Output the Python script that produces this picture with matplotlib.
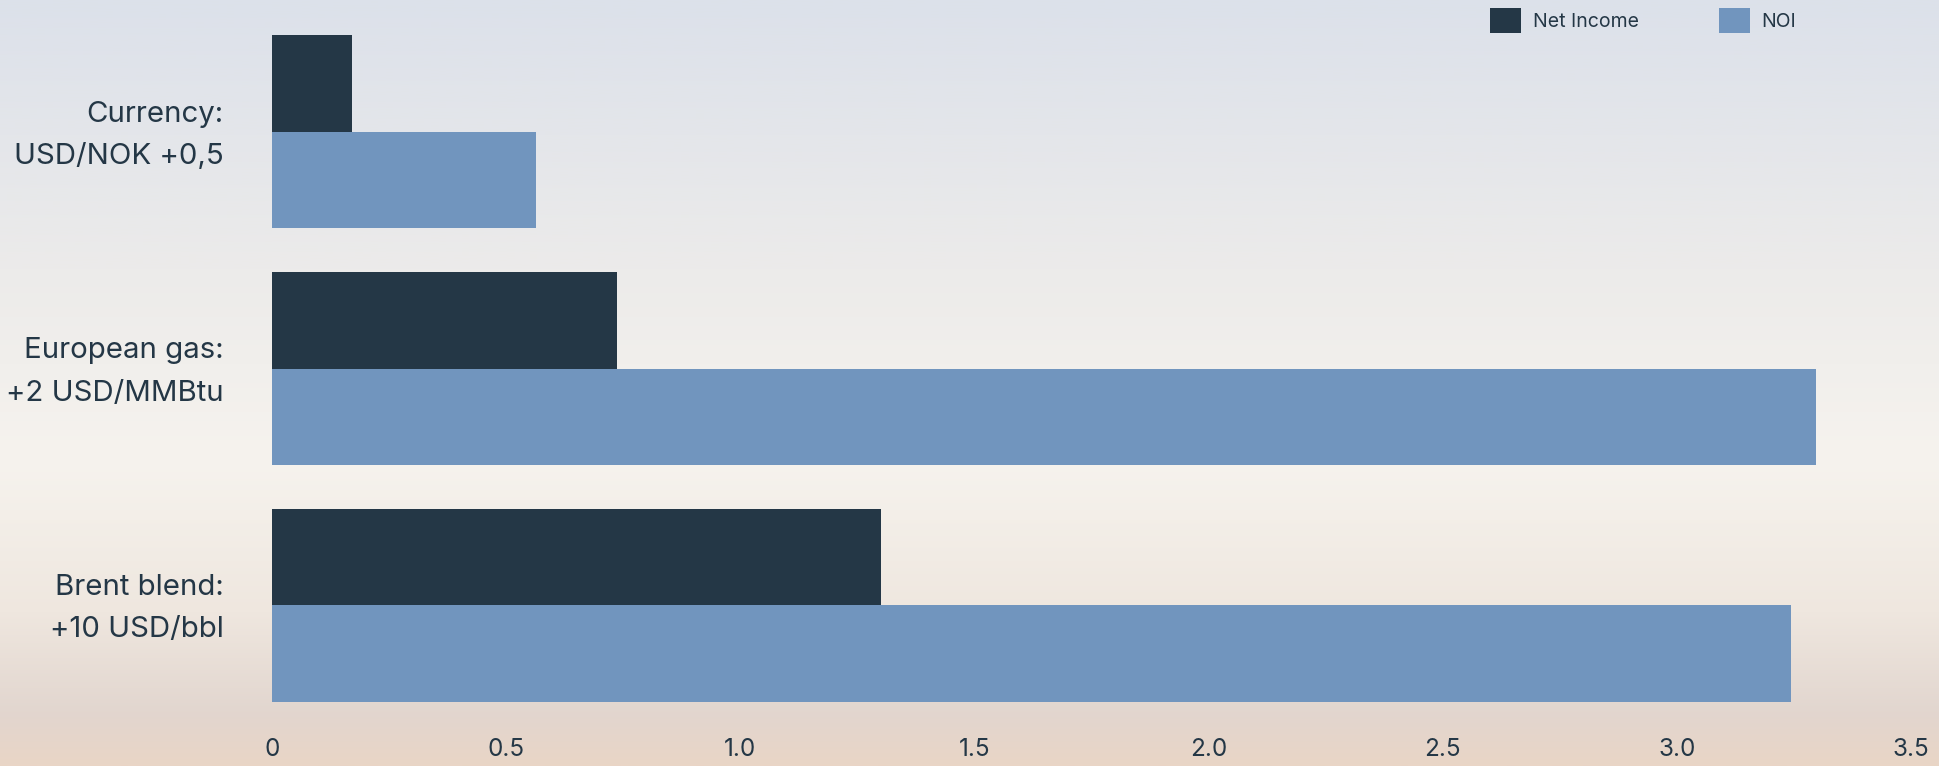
import numpy as np
import matplotlib
matplotlib.use("Agg")
import matplotlib.pyplot as plt
import matplotlib.colors as mcolors
from matplotlib.patches import Patch

# ── data ─────────────────────────────────────────────
categories = ["Currency:\nUSD/NOK +0,5", "European gas:\n+2 USD/MMBtu", "Brent blend:\n+10 USD/bbl"]
net_income = [0.17, 0.737, 1.30]
noi = [0.563, 3.298, 3.243]
series_names = ["Net Income", "NOI"]
xticks = [0, 0.5, 1.0, 1.5, 2.0, 2.5, 3.0, 3.5]
xtick_labels = ["0", "0.5", "1.0", "1.5", "2.0", "2.5", "3.0", "3.5"]

# ── style ────────────────────────────────────────────
plt.rcParams["font.family"] = ["Inter", "DejaVu Sans"]
c_dark = "#243746"
c_light = "#7195BE"
text_col = "#243746"

W, H = 1939, 766
fig = plt.figure(figsize=(W / 100, H / 100), dpi=100)

# sky-like background gradient
bg = fig.add_axes([0, 0, 1, 1], zorder=-10)
bg.axis("off")
sky = mcolors.LinearSegmentedColormap.from_list(
    "sky",
    [(0.0, "#DCE1EA"), (0.35, "#ECEBEA"), (0.6, "#F6F3EE"),
     (0.8, "#EFE7DF"), (0.93, "#E2D6CF"), (1.0, "#E9D5C6")],
)
grad = np.linspace(0, 1, 256).reshape(-1, 1)
bg.imshow(grad, aspect="auto", cmap=sky, extent=[0, 1, 1, 0])

# main axes
ax = fig.add_axes([272 / W, 46 / H, (1911 - 272) / W, 720 / H])
ax.patch.set_alpha(0)

y = np.arange(len(categories))
h = 0.408
ax.barh(y - h / 2, net_income, height=h, color=c_dark, label=series_names[0])
ax.barh(y + h / 2, noi, height=h, color=c_light, label=series_names[1])

ax.set_xlim(0, 3.5)
ax.set_ylim(2.486, -0.558)
ax.set_yticks(y)
ax.set_yticklabels([])
# category labels, right-aligned left of the axis
for yi, cat in zip(y, categories):
    ax.annotate(cat, xy=(0, yi), xycoords=ax.get_yaxis_transform(),
                xytext=(-35, -2.5), textcoords="offset points",
                ha="right", va="center", fontsize=21.2, color=text_col,
                linespacing=1.75, annotation_clip=False)
ax.set_xticks(xticks)
ax.set_xticklabels(xtick_labels, fontsize=17.5, color=text_col)
ax.tick_params(axis="x", length=0, pad=13)
ax.tick_params(axis="y", length=0)
for s in ax.spines.values():
    s.set_visible(False)

handles = [Patch(facecolor=c_dark), Patch(facecolor=c_light)]
ax.legend(handles, series_names, loc="upper left",
          bbox_to_anchor=(1490 / W, 1 - 8 / H), bbox_transform=fig.transFigure,
          ncol=2, frameon=False, fontsize=14, labelcolor=text_col,
          handlelength=1.6, handleheight=1.6, handletextpad=0.6,
          columnspacing=4.1, borderpad=0, borderaxespad=0)

fig.savefig("out.png", dpi=100)
